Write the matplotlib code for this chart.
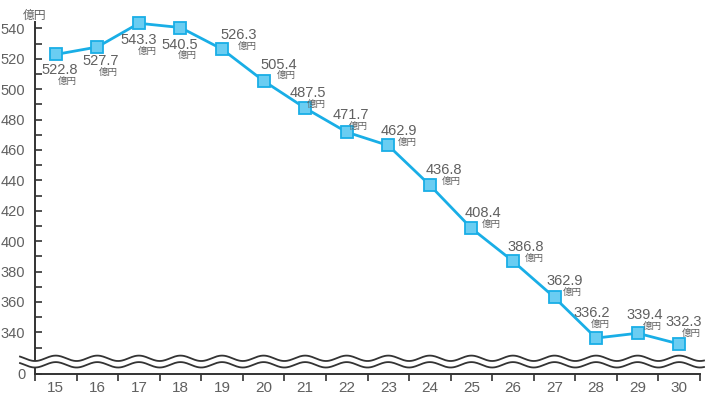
import numpy as np
import matplotlib
matplotlib.use("Agg")
import matplotlib.pyplot as plt
from matplotlib.lines import Line2D

years = ["15", "16", "17", "18", "19", "20", "21", "22", "23", "24", "25", "26", "27", "28", "29", "30"]
values = [522.8, 527.7, 543.3, 540.5, 526.3, 505.4, 487.5, 471.7, 462.9, 436.8, 408.4, 386.8, 362.9, 336.2, 339.4, 332.3]
unit = "億円"
ytick_values = [340, 360, 380, 400, 420, 440, 460, 480, 500, 520, 540]

# label offsets in pixels (value text), relative to marker
label_offsets = [(4, -16), (3, -14), (0, -17), (-1, -17), (17, 14), (15, 16), (3, 15), (4, 17),
                 (11, 14), (14, 15), (12, 15), (13, 14), (10, 16), (-4, 25), (7, 18), (4, 22)]

W, H, DPI = 713, 397, 100
fig = plt.figure(figsize=(W / DPI, H / DPI), dpi=DPI)

x0, x1 = 35, 700
ytop, ybot = 22, 374
ax = fig.add_axes([x0 / W, (H - ybot) / H, (x1 - x0) / W, (ybot - ytop) / H])

px_per_unit = 1.52
y_540 = 28.3
ymin = 540 - (ybot - y_540) / px_per_unit
ymax = 540 + (y_540 - ytop) / px_per_unit
ax.set_ylim(ymin, ymax)
n = len(years)
ax.set_xlim(-0.5, n - 0.5)

xs = np.arange(n)
line_color = "#19aee6"
ax.plot(xs, values, color=line_color, lw=2.0, marker="s", markersize=8.5,
        markerfacecolor="#6acdf2", markeredgecolor=line_color, markeredgewidth=1.3,
        clip_on=False, zorder=5)

text_color = "#606060"
num_font = ["Liberation Sans", "DejaVu Sans"]
cjk_font = ["Noto Sans CJK JP", "DejaVu Sans"]
for i, (v, (dx, dy)) in enumerate(zip(values, label_offsets)):
    ax.annotate(f"{v:.1f}", (xs[i], v), xytext=(dx, dy), textcoords="offset pixels",
                ha="center", va="center", fontsize=10.5, color=text_color,
                family=num_font, zorder=6)
    ax.annotate(unit, (xs[i], v), xytext=(dx + 8, dy - 11), textcoords="offset pixels",
                ha="center", va="center", fontsize=6.8, color=text_color,
                family=cjk_font, zorder=6)

for s in ["top", "right"]:
    ax.spines[s].set_visible(False)
axis_color = "#333333"
ax.spines["left"].set_color(axis_color)
ax.spines["bottom"].set_color(axis_color)
ax.spines["left"].set_linewidth(1.4)
ax.spines["bottom"].set_linewidth(1.4)

ax.set_yticks([ymin] + ytick_values)
ax.set_yticklabels(["0"] + [str(t) for t in ytick_values])
for lab in ax.get_yticklabels():
    lab.set_fontsize(10.5)
    lab.set_color(text_color)
    lab.set_family(num_font)
ax.set_yticks(np.arange(330, 541, 20), minor=True)
ax.tick_params(axis="y", which="both", direction="in", length=5, width=1.2,
               color=axis_color, pad=7)

ax.set_xticks(np.arange(-0.5, n, 1.0))
ax.set_xticklabels([""] * (n + 1))
ax.set_xticks(xs, minor=True)
ax.set_xticklabels(years, minor=True)
for lab in ax.get_xticklabels(minor=True):
    lab.set_fontsize(11)
    lab.set_color(text_color)
    lab.set_family(num_font)
ax.tick_params(axis="x", which="major", direction="out", length=5, width=1.2, color=axis_color)
ax.tick_params(axis="x", which="minor", length=0, pad=5)

fig.text(x0 / W, (H - 15) / H, unit, ha="center", va="center", fontsize=8.5,
         color=text_color, family=cjk_font)

# wavy break lines
period = (x1 - x0) / n
wx = np.linspace(20, 704, 800)
amp = 2.7
upper = 358.3 - amp * np.cos(2 * np.pi * (wx - (x0 + period / 2)) / period)
lower = upper + 6.5
fx = wx / W
fu = (H - upper) / H
fl = (H - lower) / H
fig.patches.append(plt.Polygon(np.column_stack([np.r_[fx, fx[::-1]], np.r_[fu, fl[::-1]]]),
                               closed=True, facecolor="white", edgecolor="none",
                               transform=fig.transFigure, zorder=10))
fig.lines.append(Line2D(fx, fu, color=axis_color, lw=1.3, transform=fig.transFigure, zorder=11))
fig.lines.append(Line2D(fx, fl, color=axis_color, lw=1.3, transform=fig.transFigure, zorder=11))

fig.savefig("out.png", dpi=DPI)
